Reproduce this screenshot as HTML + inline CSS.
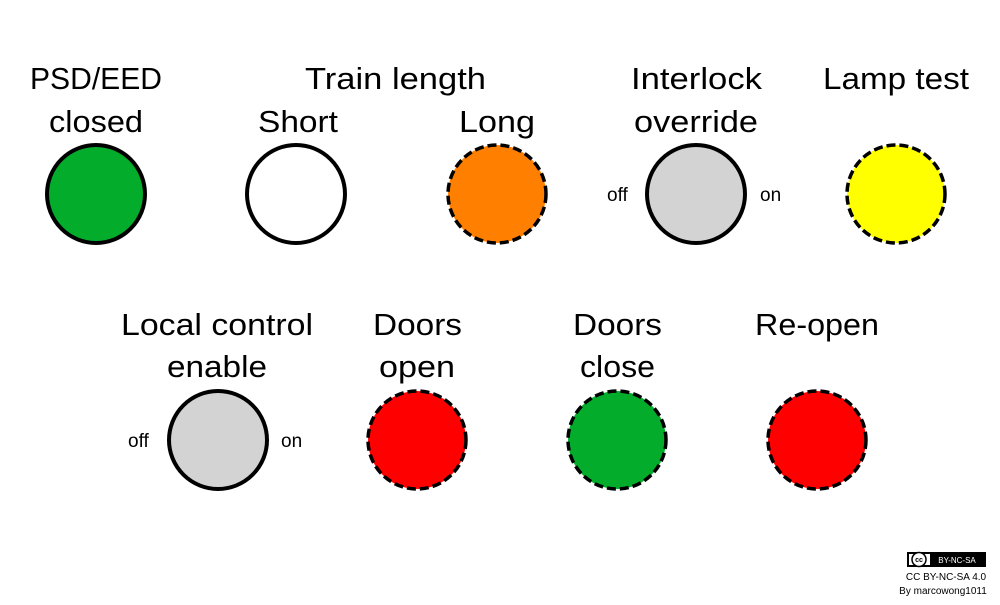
<!DOCTYPE html>
<html><head><meta charset="utf-8"><style>html,body{margin:0;padding:0;background:#fff}</style></head>
<body>
<svg width="1000" height="600" viewBox="0 0 1000 600" xmlns="http://www.w3.org/2000/svg" font-family="Liberation Sans, sans-serif">
<g font-size="31" fill="#000" lengthAdjust="spacingAndGlyphs">
<text x="30" y="89" textLength="132" lengthAdjust="spacingAndGlyphs">PSD/EED</text>
<text x="49" y="132" textLength="94" lengthAdjust="spacingAndGlyphs">closed</text>
<text x="305" y="89" textLength="181" lengthAdjust="spacingAndGlyphs">Train length</text>
<text x="258" y="132" textLength="80" lengthAdjust="spacingAndGlyphs">Short</text>
<text x="459" y="132" textLength="76" lengthAdjust="spacingAndGlyphs">Long</text>
<text x="631" y="89" textLength="131" lengthAdjust="spacingAndGlyphs">Interlock</text>
<text x="634" y="132" textLength="124" lengthAdjust="spacingAndGlyphs">override</text>
<text x="823" y="89" textLength="146" lengthAdjust="spacingAndGlyphs">Lamp test</text>
<text x="121" y="335" textLength="192" lengthAdjust="spacingAndGlyphs">Local control</text>
<text x="167" y="377" textLength="100" lengthAdjust="spacingAndGlyphs">enable</text>
<text x="373" y="335" textLength="89" lengthAdjust="spacingAndGlyphs">Doors</text>
<text x="379" y="377" textLength="76" lengthAdjust="spacingAndGlyphs">open</text>
<text x="573" y="335" textLength="89" lengthAdjust="spacingAndGlyphs">Doors</text>
<text x="580" y="377" textLength="75" lengthAdjust="spacingAndGlyphs">close</text>
<text x="755" y="335" textLength="124" lengthAdjust="spacingAndGlyphs">Re-open</text>
</g>
<g font-size="19" fill="#000">
<text x="607" y="201">off</text>
<text x="760" y="201">on</text>
<text x="128" y="447">off</text>
<text x="281" y="447">on</text>
</g>
<g stroke="#000" stroke-width="4">
<circle cx="96" cy="194" r="49" fill="#03ac2b"/>
<circle cx="296" cy="194" r="49" fill="#fff"/>
<circle cx="696" cy="194" r="49" fill="#d3d3d3"/>
<circle cx="218" cy="440" r="49" fill="#d3d3d3"/>
</g>
<g stroke="#000" stroke-width="3.5" stroke-dasharray="9,4">
<circle cx="497" cy="194" r="49" fill="#ff8000"/>
<circle cx="896" cy="194" r="49" fill="#ffff00"/>
<circle cx="417" cy="440" r="49" fill="#ff0000"/>
<circle cx="617" cy="440" r="49" fill="#03ac2b"/>
<circle cx="817" cy="440" r="49" fill="#ff0000"/>
</g>
<rect x="907" y="552" width="79" height="15" fill="#000"/>
<rect x="909" y="554" width="75" height="11" fill="#fff" stroke="none"/>
<rect x="930" y="554" width="54" height="11" fill="#000"/>
<circle cx="919" cy="559.5" r="7" fill="#fff" stroke="#000" stroke-width="1.5"/>
<text x="919" y="562" font-size="7" font-weight="bold" text-anchor="middle">cc</text>
<text x="957" y="563" font-size="8" fill="#fff" text-anchor="middle">BY-NC-SA</text>
<text x="946" y="580" font-size="10" text-anchor="middle">CC BY-NC-SA 4.0</text>
<text x="943" y="594" font-size="10" text-anchor="middle">By marcowong1011</text>
</svg>
</body></html>
